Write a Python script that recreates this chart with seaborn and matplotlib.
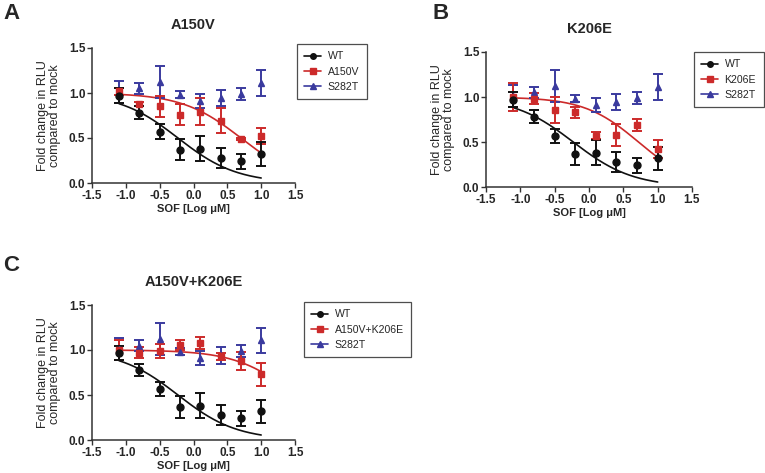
import numpy as np
import pandas as pd
import matplotlib
matplotlib.use("Agg")
import matplotlib.pyplot as plt
from matplotlib.lines import Line2D
import seaborn as sns

sns.set_style("ticks")
plt.rcParams['font.family'] = ['Liberation Sans', 'DejaVu Sans']

# ---- data ----
log_conc = [-1.1, -0.8, -0.5, -0.2, 0.1, 0.4, 0.7, 1.0]

wt_mean = [0.97, 0.78, 0.57, 0.37, 0.38, 0.28, 0.24, 0.32]
wt_err = [0.08, 0.07, 0.08, 0.12, 0.14, 0.11, 0.08, 0.13]

s282t_mean = [1.01, 1.05, 1.12, 0.98, 0.91, 0.94, 0.99, 1.11]
s282t_err = [0.12, 0.06, 0.18, 0.04, 0.08, 0.09, 0.07, 0.14]

a150v_mean = [1.02, 0.88, 0.85, 0.76, 0.79, 0.69, 0.49, 0.52]
a150v_err = [0.04, 0.02, 0.12, 0.12, 0.15, 0.14, 0.01, 0.09]

k206e_mean = [1.00, 0.98, 0.855, 0.83, 0.57, 0.58, 0.69, 0.42]
k206e_err = [0.16, 0.06, 0.14, 0.06, 0.04, 0.12, 0.07, 0.10]

dbl_mean = [1.00, 0.97, 0.99, 1.055, 1.08, 0.93, 0.88, 0.73]
dbl_err = [0.11, 0.06, 0.08, 0.06, 0.07, 0.04, 0.10, 0.13]

# fitted dose-response parameters (logIC50, Hill slope)
wt_fit = (-0.23, 1.0)
a150v_fit = (0.70, 1.0)
k206e_fit = (0.72, 1.1)
dbl_fit = (1.50, 1.0)

titles = ["A150V", "K206E", "A150V+K206E"]
letters = ["A", "B", "C"]
mutant_labels = ["A150V", "K206E", "A150V+K206E"]
x_ticks = [-1.5, -1.0, -0.5, 0.0, 0.5, 1.0, 1.5]
y_ticks = [0.0, 0.5, 1.0, 1.5]

BLACK = "#111111"
RED = "#cc2a2a"
BLUE = "#3a3a9e"

W, H = 765, 473
fig = plt.figure(figsize=(W / 100, H / 100), dpi=100)

def fr(x0, y0, x1, y1):
    return [x0 / W, 1 - y1 / H, (x1 - x0) / W, (y1 - y0) / H]

axes_px = [(92, 48, 295, 183), (486, 52, 692, 187), (92, 305, 295, 440)]
legend_px = [(297, 44), (694, 52), (304, 302)]
letter_px = [(3, 3), (432, 3), (3, 255)]

mut_means = [a150v_mean, k206e_mean, dbl_mean]
mut_errs = [a150v_err, k206e_err, dbl_err]
mut_fits = [a150v_fit, k206e_fit, dbl_fit]

def logistic(x, p):
    c, h = p
    return 1.0 / (1.0 + 10 ** ((x - c) * h))

xc = np.linspace(min(log_conc), max(log_conc), 200)

for i in range(3):
    ax = fig.add_axes(fr(*axes_px[i]))
    # fitted curves
    curves = pd.DataFrame({
        "x": np.concatenate([xc, xc]),
        "y": np.concatenate([logistic(xc, wt_fit), logistic(xc, mut_fits[i])]),
        "g": ["WT"] * len(xc) + ["MUT"] * len(xc),
    })
    sns.lineplot(data=curves, x="x", y="y", hue="g",
                 palette={"WT": BLACK, "MUT": RED}, lw=1.2, legend=False, ax=ax)
    # points with error bars
    ekw = dict(ls="none", capsize=3.5, elinewidth=1.4, capthick=1.4, markersize=5)
    ax.errorbar(log_conc, s282t_mean, yerr=s282t_err, fmt="^", color=BLUE, **ekw)
    ax.errorbar(log_conc, mut_means[i], yerr=mut_errs[i], fmt="s", color=RED,
                **{**ekw, "markersize": 4.5})
    ax.errorbar(log_conc, wt_mean, yerr=wt_err, fmt="o", color=BLACK, **ekw)

    ax.set_xlim(-1.5, 1.5)
    ax.set_ylim(0, 1.5)
    ax.set_xticks(x_ticks)
    ax.set_yticks(y_ticks)
    ax.set_xticklabels([f"{t:.1f}" for t in x_ticks], fontsize=8.5, fontweight="bold")
    ax.set_yticklabels([f"{t:.1f}" for t in y_ticks], fontsize=8.5, fontweight="bold")
    ax.tick_params(length=3.5, width=1.0, pad=1.2, color="#333333")
    for s in ["top", "right"]:
        ax.spines[s].set_visible(False)
    for s in ["left", "bottom"]:
        ax.spines[s].set_linewidth(1.1)
        ax.spines[s].set_color("#333333")
    ax.set_xlabel("SOF [Log μM]", fontsize=8, fontweight="bold", labelpad=1.5)
    ax.set_ylabel("Fold change in RLU\ncompared to mock", fontsize=9, labelpad=6,
                  linespacing=1.0)
    ax.set_title(titles[i], fontsize=10.5, fontweight="bold", pad=14)

    handles = [
        Line2D([], [], color=BLACK, marker="o", markersize=4, lw=1.2),
        Line2D([], [], color=RED, marker="s", markersize=4, lw=1.2),
        Line2D([], [], color=BLUE, marker="^", markersize=4, lw=1.2),
    ]
    lx, ly = legend_px[i]
    leg = fig.legend(handles, ["WT", mutant_labels[i], "S282T"],
                     loc="upper left", bbox_to_anchor=(lx / W, 1 - ly / H),
                     fontsize=7.6, frameon=True, fancybox=False, handlelength=1.6,
                     borderpad=0.7, labelspacing=0.5, handletextpad=0.6,
                     borderaxespad=0)
    leg.get_frame().set_edgecolor("#222222")
    leg.get_frame().set_linewidth(0.9)

    tx, ty = letter_px[i]
    fig.text(tx / W, 1 - ty / H, letters[i], fontsize=16, fontweight="bold",
             va="top", ha="left")

fig.savefig("out.png", dpi=100)
